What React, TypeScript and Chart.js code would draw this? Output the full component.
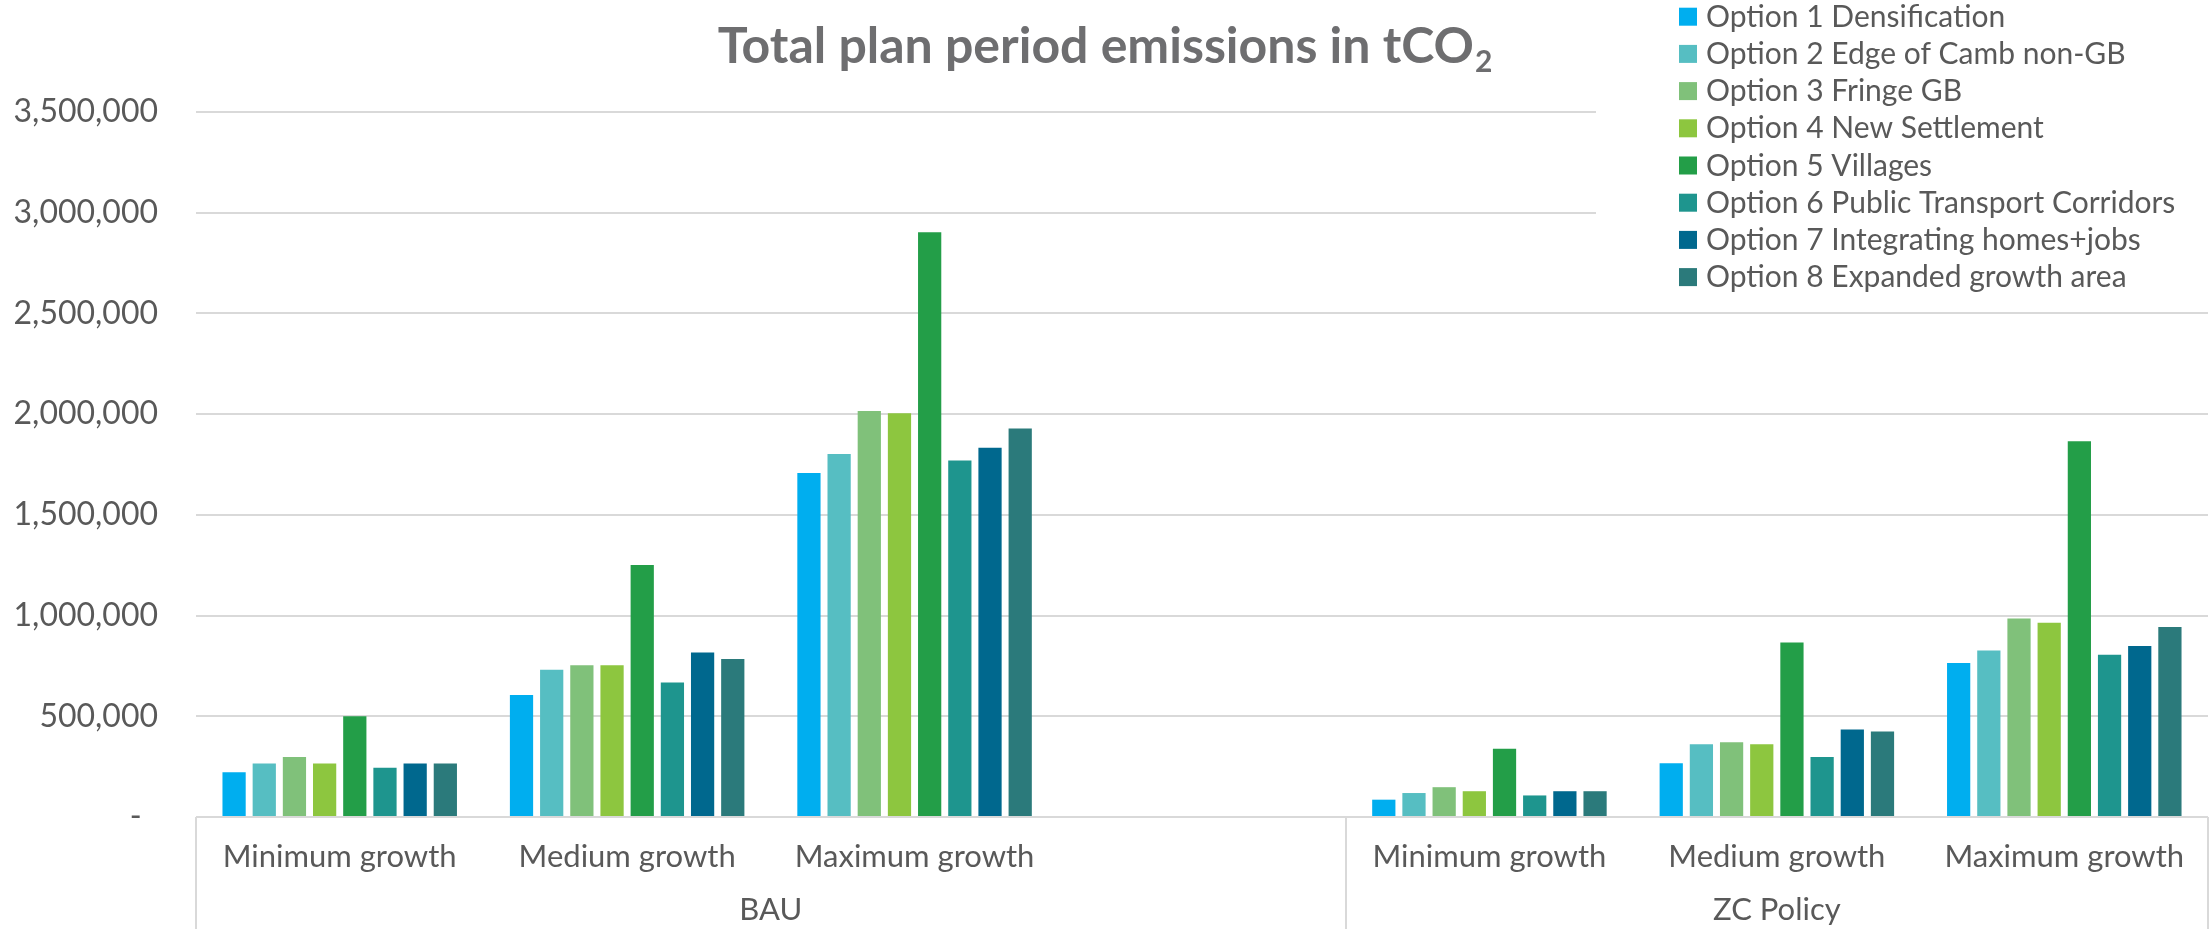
import React, { useEffect, useRef } from "react";
import { Chart, registerables } from "chart.js";

Chart.register(...registerables);

// Category slots along the x axis; the empty slot separates the two scenario groups.
const categories = [
  "Minimum growth",
  "Medium growth",
  "Maximum growth",
  "",
  "Minimum growth",
  "Medium growth",
  "Maximum growth",
];

// Scenario groups and how many category slots each spans.
const groupLabels = ["BAU", "ZC Policy"];
const groupSpans = [4, 3];

const seriesNames = [
  "Option 1 Densification",
  "Option 2 Edge of Camb non-GB",
  "Option 3 Fringe GB",
  "Option 4 New Settlement",
  "Option 5 Villages",
  "Option 6 Public Transport Corridors",
  "Option 7 Integrating homes+jobs",
  "Option 8 Expanded growth area",
];

const seriesColors = [
  "#00AEEF",
  "#56BEC2",
  "#80C17A",
  "#8DC63F",
  "#239E48",
  "#1E958E",
  "#00688E",
  "#2B7A7B",
];

// Total plan period emissions (tCO2) per option, in category order.
const option1 = [222000, 606000, 1708000, null, 86000, 267000, 764000];
const option2 = [266000, 731000, 1802000, null, 119000, 361000, 827000];
const option3 = [298000, 753000, 2015000, null, 148000, 371000, 986000];
const option4 = [266000, 753000, 2004000, null, 128000, 361000, 964000];
const option5 = [500000, 1251000, 2903000, null, 339000, 866000, 1866000];
const option6 = [245000, 668000, 1770000, null, 107000, 298000, 805000];
const option7 = [266000, 817000, 1833000, null, 128000, 435000, 849000];
const option8 = [266000, 784000, 1929000, null, 128000, 425000, 943000];

const seriesValues = [option1, option2, option3, option4, option5, option6, option7, option8];

const yMin = 0;
const yMax = 3500000;
const yStep = 500000;

const TEXT = "#595959";
const GRID = "#d9d9d9";
const FONT = "Lato, 'Open Sans', sans-serif";

const decorPlugin = {
  id: "decor",
  afterDraw(chart: any) {
    const { ctx, chartArea, scales } = chart;
    const x = scales.x;
    const slot = x.getPixelForValue(1) - x.getPixelForValue(0);
    ctx.save();

    // Title with subscript
    ctx.fillStyle = "#6e6e70";
    ctx.textBaseline = "alphabetic";
    ctx.textAlign = "left";
    const main = "Total plan period emissions in tCO";
    ctx.font = `bold 50px ${FONT}`;
    const wMain = ctx.measureText(main).width;
    ctx.font = `bold 30px ${FONT}`;
    const wSub = ctx.measureText("2").width;
    const tx = chart.width / 2 - (wMain + wSub) / 2;
    ctx.font = `bold 50px ${FONT}`;
    ctx.fillText(main, tx, 63);
    ctx.font = `bold 30px ${FONT}`;
    ctx.fillText("2", tx + wMain + 1, 72);

    // Category labels
    ctx.fillStyle = TEXT;
    ctx.textAlign = "center";
    ctx.font = `31px ${FONT}`;
    categories.forEach((c, i) => {
      if (c) ctx.fillText(c, x.getPixelForValue(i), 867);
    });

    // Group separators and group labels
    ctx.strokeStyle = GRID;
    ctx.lineWidth = 2;
    let start = 0;
    const edges: number[] = [x.getPixelForValue(0) - slot / 2];
    groupSpans.forEach((span, g) => {
      const left = x.getPixelForValue(start) - slot / 2;
      const right = x.getPixelForValue(start + span - 1) + slot / 2;
      edges.push(right);
      ctx.fillText(groupLabels[g], (left + right) / 2, 920);
      start += span;
    });
    edges.forEach((ex) => {
      const px = Math.min(Math.round(ex), chart.width - 1);
      ctx.beginPath();
      ctx.moveTo(px, chartArea.bottom);
      ctx.lineTo(px, chart.height);
      ctx.stroke();
    });

    // Legend panel, top right, over the plot area
    const lx = 1596;
    ctx.fillStyle = "#ffffff";
    ctx.fillRect(lx, 0, chart.width - lx, 305);
    ctx.font = `30px ${FONT}`;
    ctx.textAlign = "left";
    seriesNames.forEach((name, i) => {
      const cy = 16.7 + i * 37.2;
      ctx.fillStyle = seriesColors[i];
      ctx.fillRect(1679, cy - 9, 18, 18);
      ctx.fillStyle = TEXT;
      ctx.fillText(name, 1706, cy + 10);
    });

    ctx.restore();
  },
};

export default function App() {
  const canvasRef = useRef<HTMLCanvasElement | null>(null);

  useEffect(() => {
    document.body.style.margin = "0";
    const canvas = canvasRef.current;
    if (!canvas) return;

    const chart = new Chart(canvas, {
      type: "bar",
      data: {
        labels: categories,
        datasets: seriesNames.map((name, i) => ({
          label: name,
          data: seriesValues[i],
          backgroundColor: seriesColors[i],
          borderWidth: 0,
          categoryPercentage: 0.84,
          barPercentage: 0.77,
        })),
      },
      options: {
        animation: false,
        responsive: true,
        maintainAspectRatio: false,
        layout: { padding: { top: 112, right: 1, left: 0, bottom: 0 } },
        plugins: {
          legend: { display: false },
          title: { display: false },
          tooltip: { enabled: false },
        },
        scales: {
          x: {
            grid: { display: false },
            border: { display: false },
            ticks: { display: false },
            afterFit(scale: any) {
              scale.height = 112;
            },
          },
          y: {
            min: yMin,
            max: yMax,
            grid: { color: GRID, lineWidth: 2, drawTicks: false },
            border: { display: false },
            ticks: {
              stepSize: yStep,
              padding: 38,
              color: TEXT,
              font: { family: FONT, size: 32 },
              callback: (v: any) => (Number(v) === 0 ? "-  " : Number(v).toLocaleString("en-US")),
            },
            afterFit(scale: any) {
              scale.width = 196;
            },
          },
        },
      },
      plugins: [decorPlugin],
    });

    return () => chart.destroy();
  }, []);

  return (
    <div style={{ position: "relative", width: "2209px", height: "929px" }}>
      <canvas ref={canvasRef} />
    </div>
  );
}
